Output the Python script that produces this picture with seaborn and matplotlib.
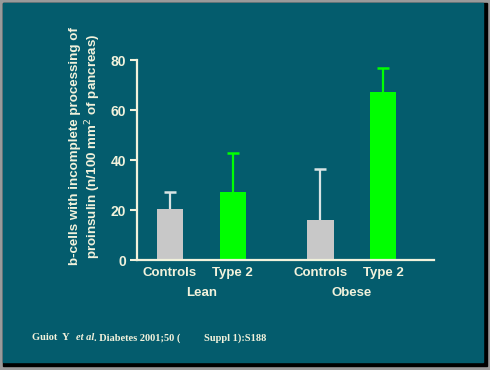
import matplotlib
matplotlib.use('Agg')
import matplotlib.pyplot as plt
from matplotlib.patches import Rectangle
import numpy as np
import pandas as pd
import seaborn as sns

# Values
groups = ['Lean', 'Lean', 'Obese', 'Obese']
conditions = ['Controls', 'Type 2', 'Controls', 'Type 2']
means = [20.3, 27.2, 16.0, 67.2]
sem = [6.8, 15.6, 20.5, 9.5]
positions = [0.0, 1.0, 2.4, 3.4]
y_ticks = [0, 20, 40, 60, 80]

BG = '#045c6d'
TXT = '#f2f2dc'
GRAY = '#c8c8c8'
GREEN = '#00ff00'

sns.set_style('dark')
plt.rcParams['font.family'] = ['Liberation Sans', 'DejaVu Sans']

df = pd.DataFrame({'pos': positions, 'mean': means, 'cond': conditions})

W, H = 490, 370
fig = plt.figure(figsize=(W / 100, H / 100), dpi=100, facecolor='#9a9a9a')

# slide frame: black shadow + teal panel
fig.patches.append(Rectangle((3 / W, 1 - 366 / H), 484 / W, 363 / H,
                             transform=fig.transFigure, color='black', zorder=-2))
fig.patches.append(Rectangle((3 / W, 1 - 362 / H), 480 / W, 359 / H,
                             transform=fig.transFigure, color=BG, zorder=-1))

x0, x1 = 137, 434
y0, y1 = 260, 60
ax = fig.add_axes([x0 / W, 1 - y0 / H, (x1 - x0) / W, (y0 - y1) / H])
ax.set_facecolor(BG)

sns.barplot(data=df, x='pos', y='mean', hue='cond', native_scale=True,
            palette={'Controls': GRAY, 'Type 2': GREEN}, width=0.415,
            dodge=False, legend=False, errorbar=None, saturation=1, ax=ax,
            linewidth=0, zorder=2)

# upward-only error bars with a single cap
for p, m, e, c in zip(positions, means, sem, conditions):
    col = '#d8e4e4' if c == 'Controls' else GREEN
    ax.plot([p, p], [m, m + e], color=col, lw=1.6, zorder=1, solid_capstyle='butt')
    ax.plot([p], [m + e], marker='_', ms=9, mew=1.8, color=col, zorder=1)

ax.set_xlim(-0.526, 4.21)
ax.set_ylim(0, 80)
ax.set_yticks(y_ticks)
ax.set_yticklabels([str(t) for t in y_ticks], fontsize=10, fontweight='bold', color=TXT)
ax.tick_params(axis='y', length=5, width=1.5, color=TXT, pad=3, left=True)
ax.set_xticks([])
ax.set_xlabel('')
ax.set_ylabel('')
ax.grid(False)
for s in ['top', 'right']:
    ax.spines[s].set_visible(False)
for s in ['left', 'bottom']:
    ax.spines[s].set_visible(True)
    ax.spines[s].set_color(TXT)
    ax.spines[s].set_linewidth(1.6)

# category labels under the bars
for p, c in zip(positions, conditions):
    ax.text(p, -0.065, c, transform=ax.get_xaxis_transform(), ha='center', va='center',
            fontsize=9.5, fontweight='bold', color=TXT)
for g in ['Lean', 'Obese']:
    xs = [p for p, gg in zip(positions, groups) if gg == g]
    ax.text(np.mean(xs), -0.165, g, transform=ax.get_xaxis_transform(), ha='center',
            va='center', fontsize=9.5, fontweight='bold', color=TXT)

fig.text(75 / W, 1 - 146 / H, 'b-cells with incomplete processing of',
         rotation=90, ha='center', va='center', fontsize=9.6, fontweight='bold', color=TXT)
fig.text(93 / W, 1 - 146 / H, 'proinsulin (n/100 mm$^{2}$ of pancreas)',
         rotation=90, ha='center', va='center', fontsize=9.6, fontweight='bold', color=TXT)

# citation
cy = 1 - 338 / H
kw = dict(fontsize=7.5, fontweight='bold', color=TXT, va='center', ha='left',
          family=['Liberation Serif', 'DejaVu Serif'])
fig.text(32 / W, cy, 'Guiot  Y', **kw)
fig.text(76 / W, cy, 'et al', style='italic', **kw)
fig.text(94 / W, cy, '. Diabetes 2001;50 (', **kw)
fig.text(204 / W, cy, 'Suppl 1):S188', **kw)

fig.savefig('out.png', dpi=100, facecolor=fig.get_facecolor())
